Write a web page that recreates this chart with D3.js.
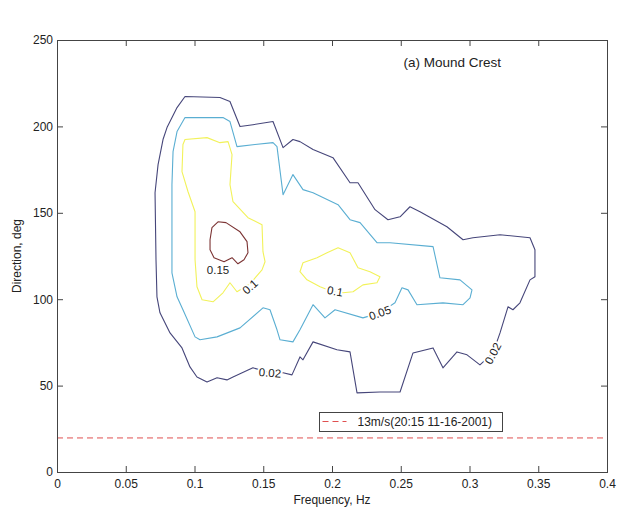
<!DOCTYPE html>
<html>
<head>
<meta charset="utf-8">
<script src="https://cdn.jsdelivr.net/npm/d3@7"></script>
<style>
  body { margin: 0; background: #fff; }
  text { font-family: "Liberation Sans", Arial, sans-serif; fill: #222; }
</style>
</head>
<body>
<svg id="chart" width="621" height="516"></svg>
<script>
// axis ticks
const xTicks = [0, 0.05, 0.1, 0.15, 0.2, 0.25, 0.3, 0.35, 0.4]
const yTicks = [0, 50, 100, 150, 200, 250]

// contour levels, [freq (Hz), direction (deg)]
const levels = [0.02, 0.05, 0.1, 0.15]

const c002 = [
  [0.0931, 217.3], [0.1185, 216.7], [0.1258, 214.4], [0.1331, 199.9], [0.1425, 201.0],
  [0.1571, 202.8], [0.1644, 187.7], [0.1716, 192.4], [0.1767, 191.2], [0.1862, 186.6],
  [0.2007, 181.9], [0.2131, 167.4], [0.2189, 167.4], [0.2313, 151.8], [0.2407, 146.0],
  [0.2495, 147.7], [0.2567, 153.5], [0.2640, 150.6], [0.2836, 141.9], [0.2953, 134.4],
  [0.3025, 135.6], [0.3222, 137.3], [0.3440, 135.6], [0.3476, 128.6], [0.3476, 113.0],
  [0.3440, 111.2], [0.3367, 97.9], [0.3316, 93.9], [0.3280, 95.6], [0.3222, 80.5],
  [0.3171, 68.9], [0.3076, 62.0], [0.2982, 67.8], [0.2909, 69.5], [0.2807, 60.3],
  [0.2735, 71.8], [0.2589, 68.9], [0.2495, 46.3], [0.2349, 46.3], [0.2182, 45.8],
  [0.2131, 69.5], [0.2036, 70.7], [0.1862, 75.3], [0.1789, 64.9], [0.1767, 66.6],
  [0.1709, 56.2], [0.1644, 57.4], [0.1549, 57.4], [0.1425, 60.3], [0.1280, 55.0],
  [0.1236, 53.3], [0.1164, 54.5], [0.1091, 52.1], [0.1018, 55.0], [0.0967, 60.8],
  [0.0909, 71.8], [0.0822, 80.5], [0.0749, 92.1], [0.0727, 101.4], [0.0720, 122.8],
  [0.0713, 161.6], [0.0735, 177.9], [0.0771, 192.4], [0.0800, 199.3], [0.0873, 210.9]
]

const c005 = [
  [0.0931, 205.1], [0.1207, 205.1], [0.1258, 202.8], [0.1309, 188.3], [0.1440, 189.5],
  [0.1571, 190.6], [0.1600, 188.3], [0.1644, 160.5], [0.1716, 172.1], [0.1789, 163.4],
  [0.1862, 161.6], [0.2044, 154.7], [0.2131, 146.0], [0.2204, 144.3], [0.2327, 132.7],
  [0.2422, 132.7], [0.2735, 130.4], [0.2785, 112.4], [0.2931, 111.2], [0.3018, 105.4],
  [0.3004, 100.8], [0.2953, 96.8], [0.2807, 97.9], [0.2618, 96.8], [0.2553, 105.4],
  [0.2509, 106.6], [0.2458, 97.9], [0.2349, 92.1], [0.2225, 89.2], [0.2022, 93.9],
  [0.1949, 89.2], [0.1862, 96.8], [0.1767, 82.3], [0.1716, 75.3], [0.1622, 76.5],
  [0.1600, 82.3], [0.1549, 93.9], [0.1498, 95.0], [0.1331, 83.4], [0.1164, 78.2],
  [0.1040, 76.5], [0.1004, 78.2], [0.0916, 93.9], [0.0873, 101.4], [0.0836, 115.3],
  [0.0836, 147.2], [0.0836, 166.3], [0.0844, 185.4], [0.0873, 197.0]
]

const c010a = [
  [0.0931, 192.4], [0.1091, 193.5], [0.1185, 190.6], [0.1244, 191.2], [0.1273, 183.7],
  [0.1258, 166.3], [0.1280, 156.4], [0.1389, 147.2], [0.1491, 143.1], [0.1498, 127.5],
  [0.1513, 121.7], [0.1491, 117.0], [0.1404, 108.9], [0.1309, 104.3], [0.1258, 109.5],
  [0.1207, 103.7], [0.1135, 98.5], [0.1055, 99.7], [0.1018, 107.2], [0.1004, 122.8],
  [0.1004, 150.6], [0.0953, 162.2], [0.0909, 173.8], [0.0916, 189.5]
]

const c010b = [
  [0.1767, 115.9], [0.1789, 121.1], [0.1891, 124.0], [0.1964, 126.9], [0.2044, 129.8],
  [0.2131, 126.9], [0.2189, 118.2], [0.2276, 115.9], [0.2349, 113.0], [0.2327, 109.5],
  [0.2225, 108.3], [0.2153, 104.3], [0.2080, 103.7], [0.2007, 104.3], [0.1913, 107.2],
  [0.1818, 111.2]
]

const c015 = [
  [0.1113, 134.4], [0.1127, 141.4], [0.1171, 144.8], [0.1229, 144.3], [0.1331, 139.0],
  [0.1382, 133.3], [0.1389, 126.9], [0.1360, 122.8], [0.1316, 120.5], [0.1273, 124.0],
  [0.1215, 121.7], [0.1142, 124.0], [0.1113, 128.6]
]

// inline contour labels [freq, dir, text]
const contourLabels = [
  [0.1171, 117.0, '0.15'],
  [0.1404, 107.2, '0.1'],
  [0.2022, 104.6, '0.1'],
  [0.2349, 92.1, '0.05'],
  [0.1549, 57.4, '0.02'],
  [0.3171, 68.6, '0.02']
]
const labelAngles = [0, -42, 10, -20, 4, -62]

// wind direction line
const windDir = 20
const windLabel = '13m/s(20:15 11-16-2001)'
const panelTitle = '(a) Mound Crest'

const levelColor = {0.02: '#46467a', 0.05: '#5aaed2', 0.1: '#f2f25a', 0.15: '#7c3434'}
const windColor = '#e05050'

const contours = [
  {level: 0.02, pts: c002},
  {level: 0.05, pts: c005},
  {level: 0.1, pts: c010a},
  {level: 0.1, pts: c010b},
  {level: 0.15, pts: c015}
]

const svg = d3.select('#chart')
const width = +svg.attr('width')
const height = +svg.attr('height')
const margin = {top: 40, right: 14, bottom: 44, left: 57}
const iw = width - margin.left - margin.right
const ih = height - margin.top - margin.bottom

const x = d3.scaleLinear().domain([0, 0.4]).range([0, iw])
const y = d3.scaleLinear().domain([0, 250]).range([ih, 0])

const g = svg.append('g')
  .attr('transform', 'translate(' + margin.left + ',' + margin.top + ')')

// contour lines
const line = d3.line()
  .x(d => x(d[0]))
  .y(d => y(d[1]))
  .curve(d3.curveLinearClosed)

g.selectAll('path.contour')
  .data(contours)
  .enter()
  .append('path')
  .attr('class', 'contour')
  .attr('d', d => line(d.pts))
  .attr('fill', 'none')
  .attr('stroke', d => levelColor[d.level])
  .attr('stroke-width', 1.1)
  .attr('stroke-linejoin', 'round')

// contour labels, white halo breaks the line like clabel does
g.selectAll('text.clabel')
  .data(contourLabels)
  .enter()
  .append('text')
  .attr('class', 'clabel')
  .attr('transform', (d, i) => 'translate(' + x(d[0]) + ',' + y(d[1]) + ')rotate(' + labelAngles[i] + ')')
  .attr('text-anchor', 'middle')
  .attr('dy', '0.35em')
  .style('font-size', '11.5px')
  .style('stroke', '#fff')
  .style('stroke-width', 4)
  .style('paint-order', 'stroke')
  .text(d => d[2])

// wind direction
g.append('line')
  .attr('x1', x(0)).attr('x2', x(0.4))
  .attr('y1', y(windDir) + 0.5).attr('y2', y(windDir) + 0.5)
  .attr('stroke', windColor)
  .attr('stroke-width', 1)
  .attr('stroke-dasharray', '6,4')

// frame and ticks
const fmt = d3.format('~g')
g.append('g')
  .attr('transform', 'translate(0,' + ih + ')')
  .call(d3.axisBottom(x).tickValues(xTicks).tickSize(-6).tickPadding(7).tickFormat(fmt))
g.append('g')
  .call(d3.axisTop(x).tickValues(xTicks).tickSize(-6).tickFormat(''))
g.append('g')
  .call(d3.axisLeft(y).tickValues(yTicks).tickSize(-6).tickPadding(4).tickFormat(fmt))
g.append('g')
  .attr('transform', 'translate(' + iw + ',0)')
  .call(d3.axisRight(y).tickValues(yTicks).tickSize(-6).tickFormat(''))

g.selectAll('.domain').remove()
g.selectAll('.tick line').attr('stroke', '#444')
g.selectAll('.tick text')
  .style('font-size', '12px')
  .attr('fill', '#222')

g.append('rect')
  .attr('x', 0.5)
  .attr('y', 0.5)
  .attr('width', iw)
  .attr('height', ih)
  .attr('fill', 'none')
  .attr('stroke', '#444')
  .attr('stroke-width', 1)

// axis titles
svg.append('text')
  .attr('x', margin.left + iw / 2)
  .attr('y', 500)
  .attr('text-anchor', 'middle')
  .attr('dy', '0.35em')
  .style('font-size', '12px')
  .text('Frequency, Hz')

svg.append('text')
  .attr('transform', 'translate(17,' + (margin.top + ih / 2) + ')rotate(-90)')
  .attr('text-anchor', 'middle')
  .attr('dy', '0.35em')
  .style('font-size', '12px')
  .text('Direction, deg')

// panel title
g.append('text')
  .attr('x', x(0.252))
  .attr('y', y(237))
  .attr('dy', '0.35em')
  .style('font-size', '13.5px')
  .text(panelTitle)

// legend
const leg = g.append('g')
  .attr('transform', 'translate(' + (Math.round(x(0.1905)) + 0.5) + ',' + (Math.round(y(34.8)) + 0.5) + ')')
const legText = leg.append('text')
  .attr('x', 38)
  .attr('y', 9.5)
  .attr('dy', '0.35em')
  .style('font-size', '12px')
  .text(windLabel)
const tw = legText.node().getComputedTextLength()
leg.insert('rect', 'text')
  .attr('width', Math.round(38 + tw + 10))
  .attr('height', 19)
  .attr('fill', '#fff')
  .attr('stroke', '#444')
leg.append('line')
  .attr('x1', 3).attr('x2', 27)
  .attr('y1', 9).attr('y2', 9)
  .attr('stroke', windColor)
  .attr('stroke-dasharray', '6,4')
</script>
</body>
</html>
